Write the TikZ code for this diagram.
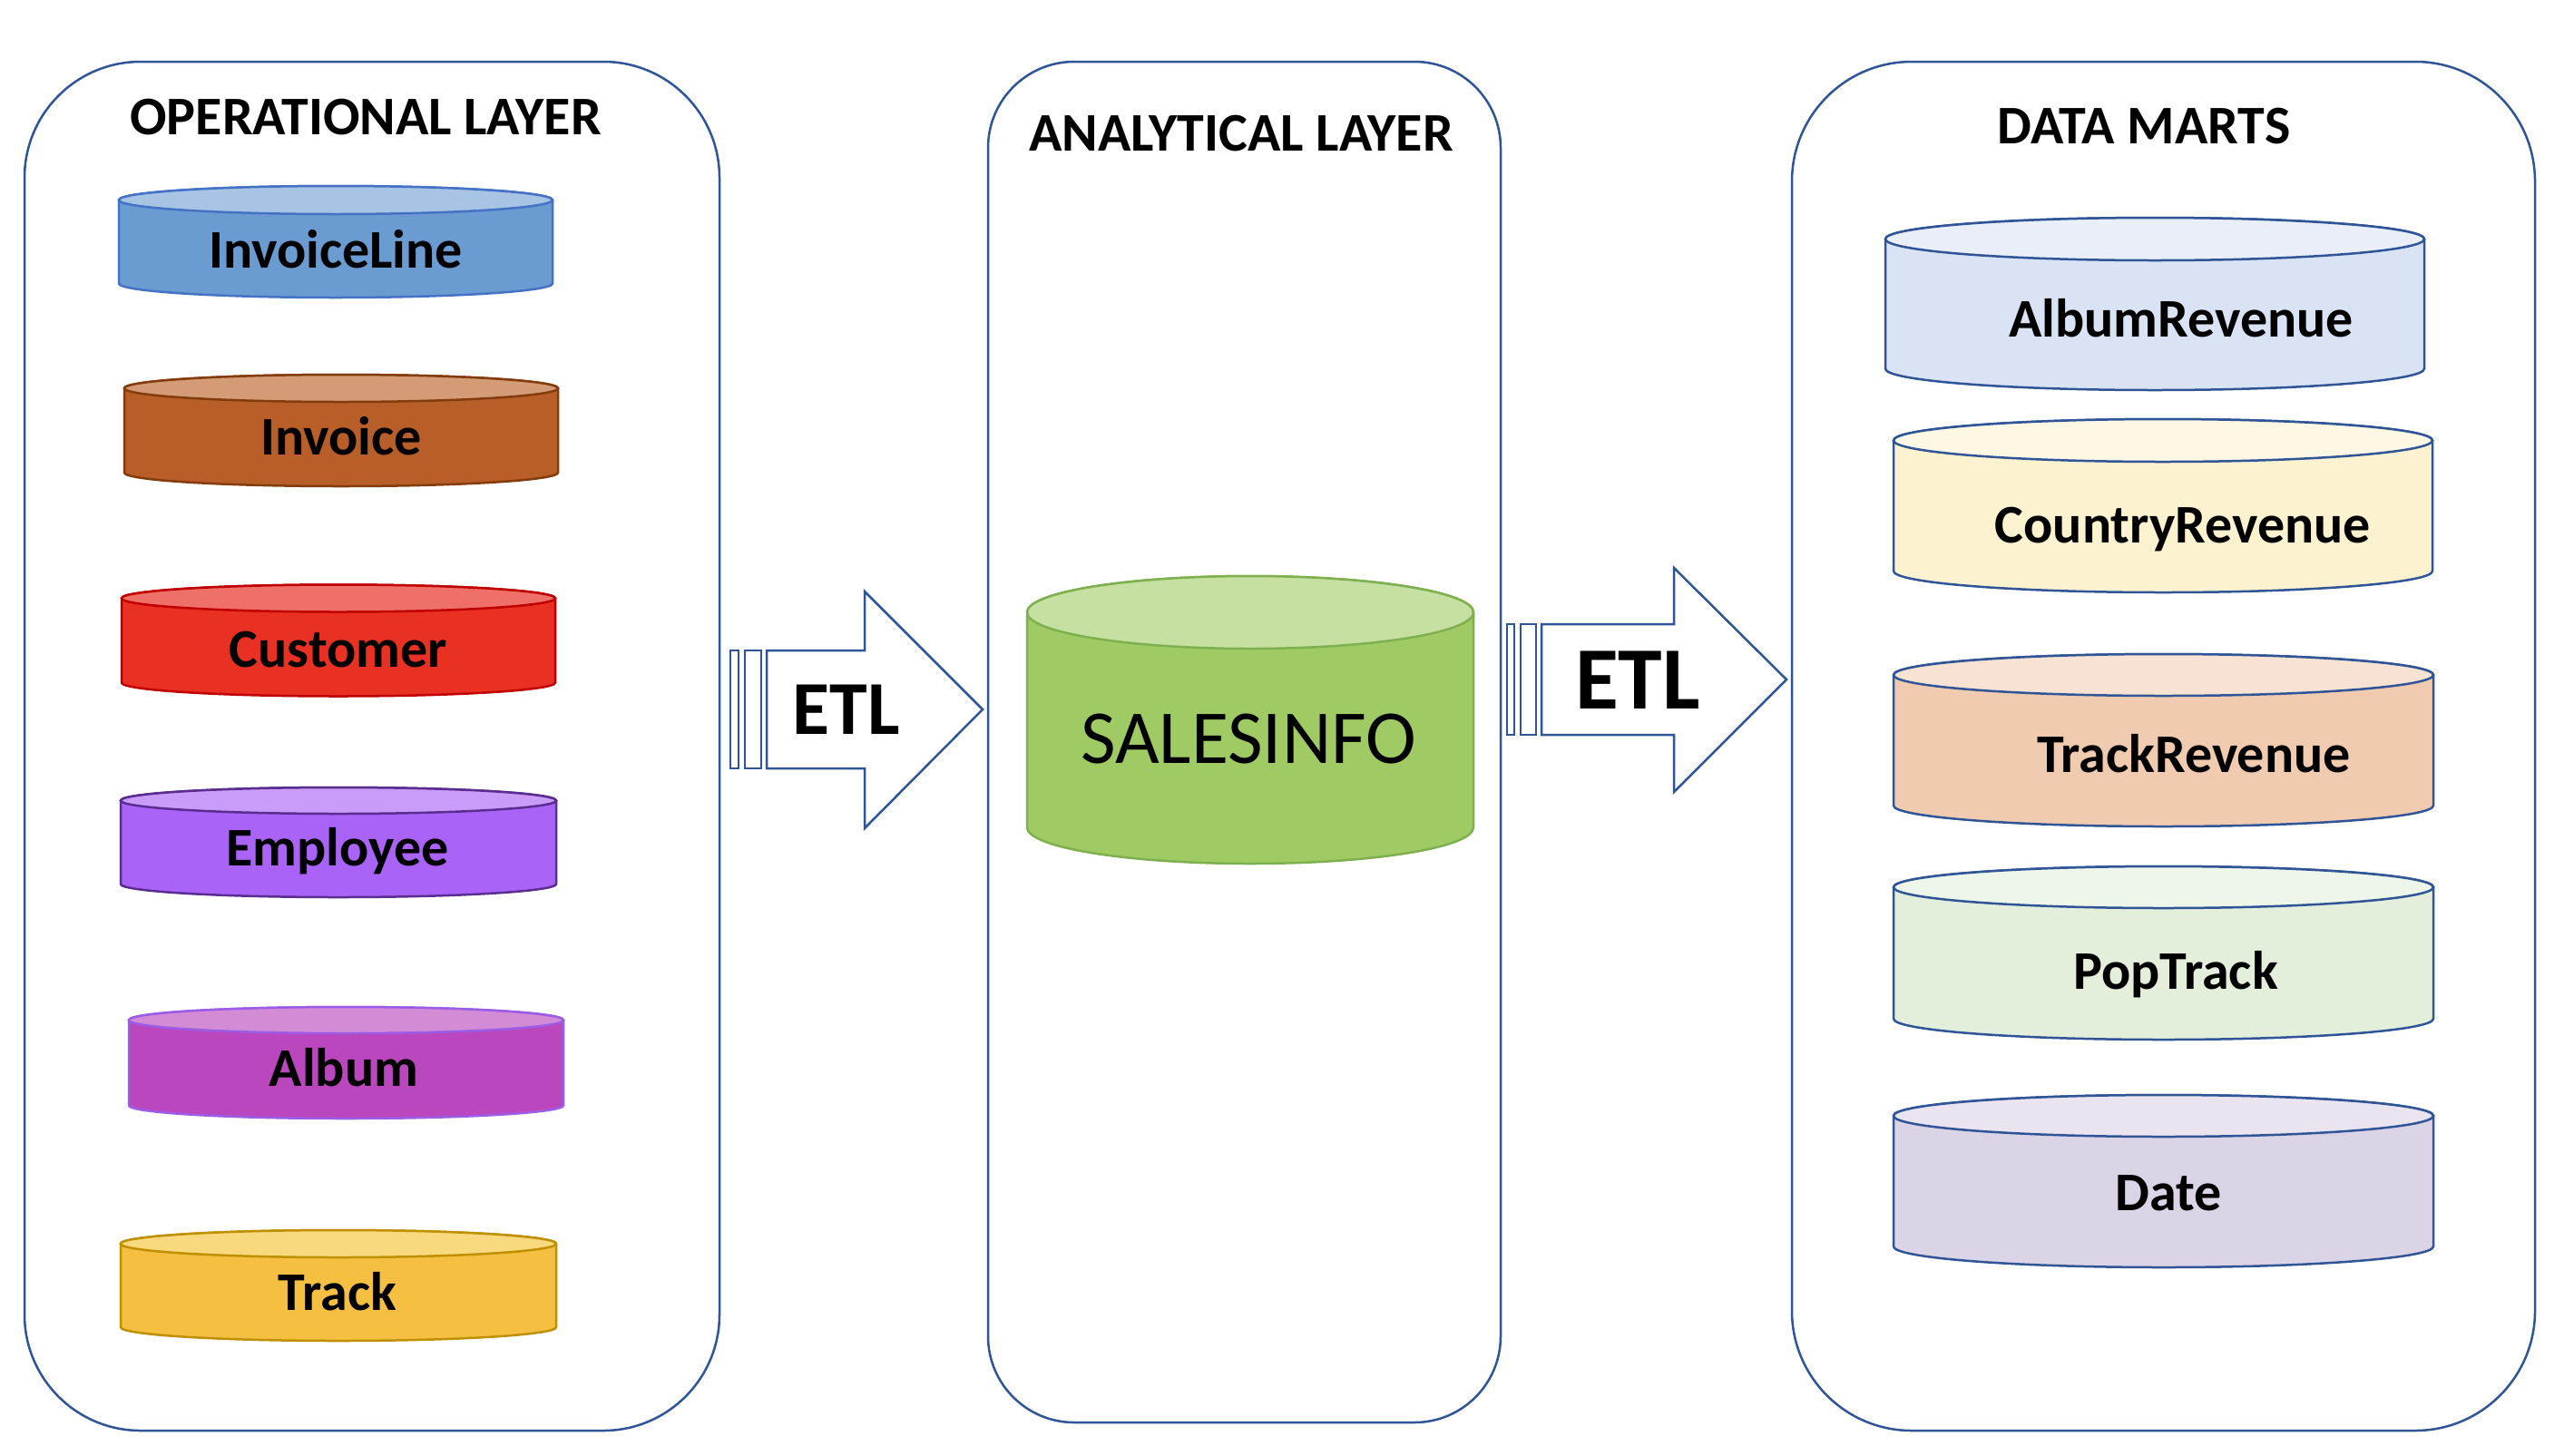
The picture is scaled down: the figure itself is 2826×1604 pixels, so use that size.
\documentclass[tikz,border=0pt]{standalone}
\usepackage{fontspec}
\setmainfont{Carlito}
\definecolor{boxblue}{RGB}{47,85,151}
\definecolor{ilbody}{RGB}{106,155,209}\definecolor{iltop}{RGB}{167,196,229}\definecolor{illine}{RGB}{68,114,196}
\definecolor{invbody}{RGB}{184,94,40}\definecolor{invtop}{RGB}{211,155,118}\definecolor{invline}{RGB}{132,60,12}
\definecolor{cusbody}{RGB}{232,48,35}\definecolor{custop}{RGB}{239,112,104}\definecolor{cusline}{RGB}{192,0,0}
\definecolor{empbody}{RGB}{169,100,247}\definecolor{emptop}{RGB}{201,156,250}\definecolor{empline}{RGB}{91,45,144}
\definecolor{albbody}{RGB}{187,71,191}\definecolor{albtop}{RGB}{211,139,214}\definecolor{albline}{RGB}{155,93,229}
\definecolor{trkbody}{RGB}{245,191,66}\definecolor{trktop}{RGB}{249,217,125}\definecolor{trkline}{RGB}{191,144,0}
\definecolor{salbody}{RGB}{160,203,100}\definecolor{saltop}{RGB}{197,224,160}\definecolor{salline}{RGB}{127,176,79}
\definecolor{arbody}{RGB}{218,227,243}\definecolor{artop}{RGB}{233,238,248}
\definecolor{crbody}{RGB}{253,242,208}\definecolor{crtop}{RGB}{254,247,228}
\definecolor{trbody}{RGB}{241,203,175}\definecolor{trtop}{RGB}{247,226,211}
\definecolor{ptbody}{RGB}{227,239,218}\definecolor{pttop}{RGB}{238,245,233}
\definecolor{dtbody}{RGB}{219,211,230}\definecolor{dttop}{RGB}{233,228,240}
\tikzset{
  panel/.style={draw=boxblue, line width=2.5pt, inner sep=0pt, fill=white},
  title/.style={font=\fontsize{60}{72}\selectfont\bfseries, anchor=base, inner sep=0pt},
  dblabel/.style={font=\fontsize{60}{72}\selectfont\bfseries, anchor=base, inner sep=0pt},
  etlarrow/.style={draw=boxblue, line width=2.5pt, fill=white, line join=miter},
}
% #1 name, #2 cx, #3 top centre y, #4 bottom centre y, #5 rx, #6 ry, #7 body, #8 top, #9 line
\newcommand{\dbcyl}[9]{%
  \filldraw[fill=#7, draw=#9, line width=2.5pt] ({#2-#5},#3) -- ({#2-#5},#4)
    arc[start angle=180,end angle=360,x radius=#5pt,y radius=#6pt] -- ({#2+#5},#3)
    arc[start angle=0,end angle=180,x radius=#5pt,y radius=#6pt] -- cycle;
  \filldraw[fill=#8, draw=#9, line width=2.5pt] (#2,#3) ellipse[x radius=#5pt, y radius=#6pt];
  \coordinate (#1) at (#2,{(#3+#4)/2});
}
\begin{document}
\begin{tikzpicture}[x=1pt,y=-1pt]
\fill[white] (0,0) rectangle (2826,1604);
\useasboundingbox (0,0) rectangle (2826,1604);
% panels
\node[panel, rounded corners=128pt, minimum width=766pt, minimum height=1509pt] (oppanel) at (410,822.5) {};
\node[panel, rounded corners=95pt, minimum width=565pt, minimum height=1500pt] (anpanel) at (1371.5,818) {};
\node[panel, rounded corners=132pt, minimum width=819pt, minimum height=1509pt] (dmpanel) at (2384.5,822.5) {};
% titles
\node[title] (optitle) at (403,148) {OPERATIONAL LAYER};
\node[title] (antitle) at (1368,166) {ANALYTICAL LAYER};
\node[title] (dmtitle) at (2363,158) {DATA MARTS};
% operational cylinders
\dbcyl{cIL}{370}{220.5}{312.5}{239}{15.5}{ilbody}{iltop}{illine}
\node[dblabel] (tIL) at (370,295) {InvoiceLine};
\dbcyl{cInv}{376}{428}{521}{239}{15}{invbody}{invtop}{invline}
\node[dblabel] (tInv) at (376,501) {Invoice};
\dbcyl{cCus}{373}{659.5}{752.5}{239}{15}{cusbody}{custop}{cusline}
\node[dblabel] (tCus) at (373,735) {Customer};
\dbcyl{cEmp}{373}{882.5}{974.5}{240}{14.5}{empbody}{emptop}{empline}
\node[dblabel] (tEmp) at (372,954) {Employee};
\dbcyl{cAlb}{381.5}{1124.5}{1218.5}{239.5}{14.5}{albbody}{albtop}{albline}
\node[dblabel] (tAlb) at (379,1197) {Album};
\dbcyl{cTrk}{373}{1371}{1463}{240}{15}{trkbody}{trktop}{trkline}
\node[dblabel] (tTrk) at (372,1444) {Track};
% analytical cylinder
\dbcyl{cSal}{1378}{675}{912}{246}{40}{salbody}{saltop}{salline}
\node[font=\fontsize{84}{96}\selectfont, anchor=base, inner sep=0pt] (tSal) at (1376,841) {SALESINFO};
% data mart cylinders
\dbcyl{cAR}{2375}{263.5}{406.5}{297}{23.5}{arbody}{artop}{boxblue}
\node[dblabel] (tAR) at (2404,371) {AlbumRevenue};
\dbcyl{cCR}{2384}{485.5}{629.5}{297}{23.5}{crbody}{crtop}{boxblue}
\node[dblabel] (tCR) at (2406,598) {CountryRevenue};
\dbcyl{cTR}{2384.5}{744}{888}{297.5}{23}{trbody}{trtop}{boxblue}
\node[dblabel] (tTR) at (2418,851) {TrackRevenue};
\dbcyl{cPT}{2384.5}{978}{1123}{297.5}{23}{ptbody}{pttop}{boxblue}
\node[dblabel] (tPT) at (2398,1090) {PopTrack};
\dbcyl{cDT}{2384.5}{1230}{1374}{297.5}{23}{dtbody}{dttop}{boxblue}
\node[dblabel] (tDT) at (2390,1334) {Date};
% ETL arrow 1
\coordinate (a1tip) at (1083,782);
\draw[etlarrow] (805,717) rectangle (814,847);
\draw[etlarrow] (821,717) rectangle (839,847);
\draw[etlarrow] (845,717) -- (953,717) -- (953,652) -- (a1tip) -- (953,913) -- (953,847) -- (845,847) -- cycle;
\node[font=\fontsize{84}{96}\selectfont\bfseries, anchor=base, inner sep=0pt] (etl1) at (933,809) {ETL};
% ETL arrow 2
\coordinate (a2tip) at (1969,749);
\draw[etlarrow] (1661,688) rectangle (1669,810);
\draw[etlarrow] (1676,688) rectangle (1693,810);
\draw[etlarrow] (1699,688) -- (1845,688) -- (1845,626) -- (a2tip) -- (1845,873) -- (1845,810) -- (1699,810) -- cycle;
\node[font=\fontsize{98}{110}\selectfont\bfseries, anchor=base, inner sep=0pt] (etl2) at (1805,781) {ETL};
\end{tikzpicture}
\end{document}
